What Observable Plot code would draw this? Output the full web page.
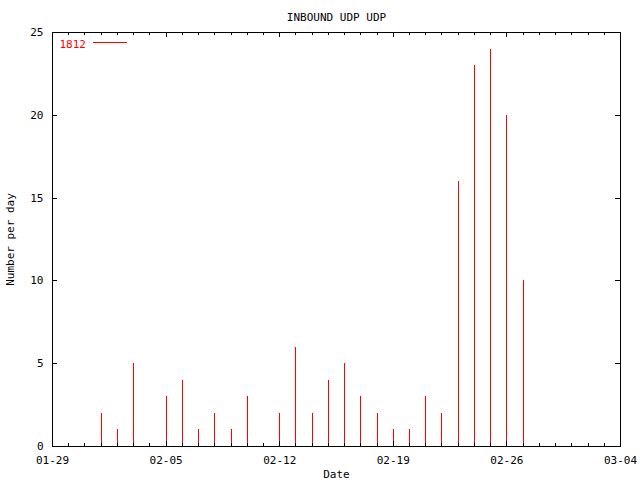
<!DOCTYPE html>
<html><head><meta charset="utf-8">
<script src="https://cdn.jsdelivr.net/npm/d3@7"></script>
<script src="https://cdn.jsdelivr.net/npm/@observablehq/plot@0.6"></script>
<style>body{margin:0;background:#fff} svg{display:block}</style>
</head><body><div id="chart"></div>
<script>
const title = "INBOUND UDP UDP";
const seriesName = "1812";
const xLabel = "Date";
const yLabel = "Number per day";
const dates = ["2008-02-01","2008-02-02","2008-02-03","2008-02-04","2008-02-05","2008-02-06","2008-02-07",
  "2008-02-08","2008-02-09","2008-02-10","2008-02-11","2008-02-12","2008-02-13","2008-02-14",
  "2008-02-15","2008-02-16","2008-02-17","2008-02-18","2008-02-19","2008-02-20","2008-02-21",
  "2008-02-22","2008-02-23","2008-02-24","2008-02-25","2008-02-26","2008-02-27"];
const counts = [2,1,5,0,3,4,1,2,1,3,0.1,2,6,2,4,5,3,2,1,1,3,2,16,23,24,20,10];
const xTicks = ["2008-01-29","2008-02-05","2008-02-12","2008-02-19","2008-02-26","2008-03-04"];
const xTickLabels = ["01-29","02-05","02-12","02-19","02-26","03-04"];
const yTicks = [0,5,10,15,20,25];
const xDomain = ["2008-01-29","2008-03-04"];
const yDomain = [0,25];

const parse = d3.utcParse("%Y-%m-%d");
const data = dates.map((d,i) => ({date: parse(d), count: counts[i]}));
const tickDates = xTicks.map(parse);
const labelOf = new Map(tickDates.map((d,i) => [+d, xTickLabels[i]]));

const plot = Plot.plot({
  width: 640, height: 480,
  marginTop: 32, marginBottom: 34, marginLeft: 52, marginRight: 20,
  style: {fontFamily: "DejaVu Sans Mono", fontSize: "11px", background: "#fff", color: "#000"},
  x: {type: "utc", domain: xDomain.map(parse)},
  y: {domain: yDomain},
  marks: [
    Plot.ruleX(data, {x: "date", y1: 0, y2: "count", stroke: "#ff0000", strokeWidth: 1, shapeRendering: "crispEdges"}),
    Plot.frame({stroke: "#000", shapeRendering: "crispEdges"}),
    Plot.axisX({ticks: tickDates, tickFormat: d => labelOf.get(+d), tickSize: 0, tickPadding: 10,
      label: xLabel, labelAnchor: "center", labelArrow: "none", labelOffset: 31}),
    Plot.axisY({ticks: yTicks, tickSize: 0, tickPadding: 9,
      label: yLabel, labelAnchor: "center", labelArrow: "none", labelOffset: 46}),
    Plot.text([title], {frameAnchor: "top", dy: -19, fill: "#000"}),
    Plot.text([seriesName], {frameAnchor: "top-left", dx: 7, dy: 8, textAnchor: "start", fill: "#ff0000"})
  ]
});
document.getElementById("chart").appendChild(plot);

// inward ticks (gnuplot style) drawn through the plot's scales
const xs = plot.scale("x"), ys = plot.scale("y");
const [x0, x1] = xs.range, [y0, y1] = ys.range;
const svg = d3.select(plot);
const g = svg.append("g").attr("stroke", "#000").attr("shape-rendering", "crispEdges");
const px = v => Math.round(v) + 0.5;
const days = d3.utcDay.range(xs.domain[0], d3.utcDay.offset(xs.domain[1], 1));
const majorSet = new Set(tickDates.map(d => +d));
for (const d of days) {
  const x = px(xs.apply(d));
  const len = majorSet.has(+d) ? 5 : 3;
  g.append("line").attr("x1", x).attr("x2", x).attr("y1", y0).attr("y2", y0 - len);
  g.append("line").attr("x1", x).attr("x2", x).attr("y1", y1).attr("y2", y1 + len);
}
for (const v of yTicks) {
  const y = px(ys.apply(v));
  g.append("line").attr("x1", x0).attr("x2", x0 + 5).attr("y1", y).attr("y2", y);
  g.append("line").attr("x1", x1).attr("x2", x1 - 5).attr("y1", y).attr("y2", y);
}
// legend sample line
svg.append("line").attr("stroke", "#ff0000").attr("shape-rendering", "crispEdges")
  .attr("x1", x0 + 41).attr("x2", x0 + 75).attr("y1", y1 + 10.5).attr("y2", y1 + 10.5);
</script></body></html>
